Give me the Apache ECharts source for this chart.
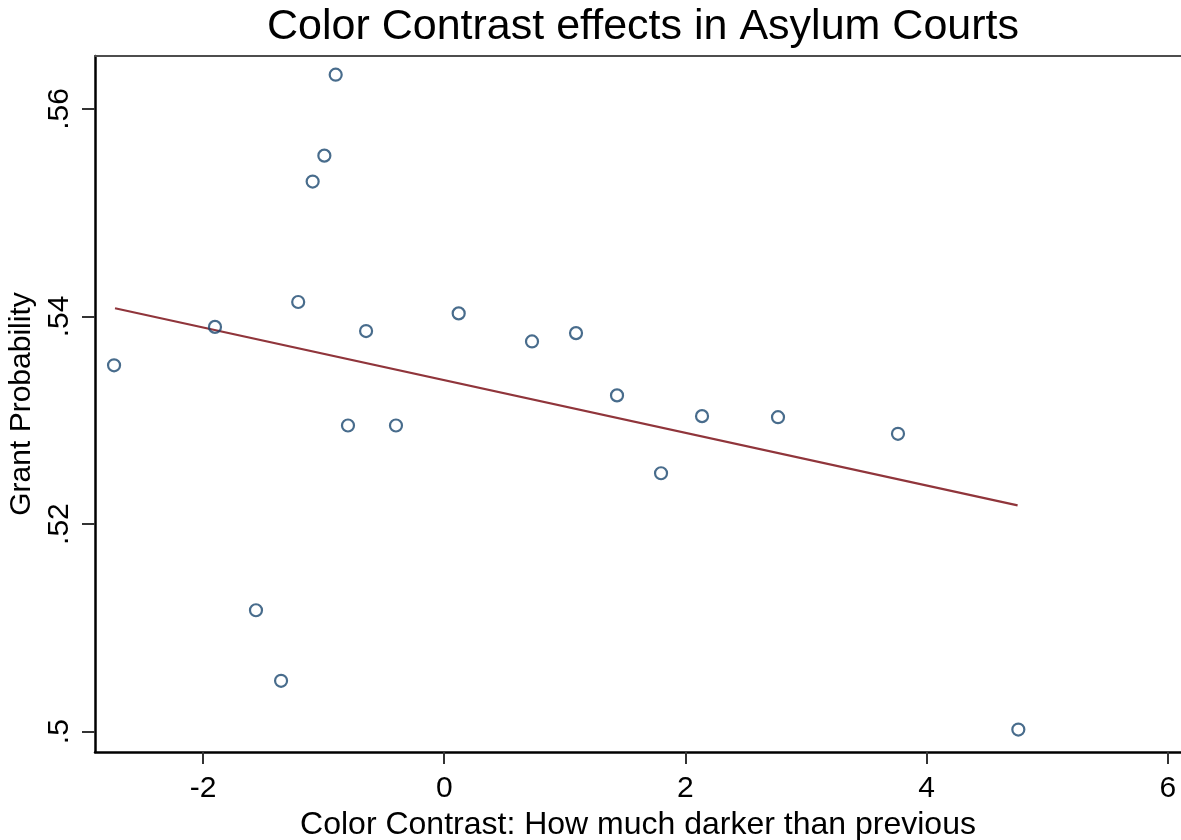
<!DOCTYPE html>
<html>
<head>
<meta charset="utf-8">
<script src="https://cdn.jsdelivr.net/npm/echarts@6/dist/echarts.min.js"></script>
<style>
html,body{margin:0;padding:0;background:#fff;}
#chart{width:1181px;height:840px;}
</style>
</head>
<body>
<div id="chart"></div>
<script>
// Data
var contrast = [-2.738, -1.901, -1.561, -1.353, -1.211, -1.091, -0.994, -0.900, -0.798, -0.648, -0.400, 0.120, 0.728, 1.093, 1.433, 1.798, 2.138, 2.768, 3.763, 4.761];
var grantProb = [0.5353, 0.5390, 0.5117, 0.5049, 0.5414, 0.5530, 0.5555, 0.5633, 0.5295, 0.5386, 0.5295, 0.5403, 0.5376, 0.5384, 0.5324, 0.5249, 0.5304, 0.5303, 0.5287, 0.5002];
var fitX = [-2.730, 4.755];
var fitY = [0.5408, 0.5218];
var xTicks = [-2, 0, 2, 4, 6];
var yTicks = [0.50, 0.52, 0.54, 0.56];
var yTickLabels = ['.5', '.52', '.54', '.56'];

var FONT = '"Liberation Sans", Arial, sans-serif';
var xMin = -2.896, xMax = 6.11, yMin = 0.49804, yMax = 0.5651;

var scatterData = contrast.map(function (x, i) { return [x, grantProb[i]]; });
var fitData = fitX.map(function (x, i) { return [x, fitY[i]]; });

var chart = echarts.init(document.getElementById('chart'), null, {renderer: 'canvas'});
chart.setOption({
  backgroundColor: '#ffffff',
  animation: false,
  title: {
    text: 'Color Contrast effects in Asylum Courts',
    left: 262,
    top: 1,
    textStyle: {fontFamily: FONT, fontSize: 43, fontWeight: 'normal', color: '#000'}
  },
  grid: {left: 95, right: 0, top: 56, bottom: 88, containLabel: false, outerBoundsMode: 'none'},
  xAxis: [{
    type: 'value', min: xMin, max: xMax, position: 'bottom',
    name: 'Color Contrast: How much darker than previous',
    nameLocation: 'middle', nameGap: 46,
    nameTextStyle: {fontFamily: FONT, fontSize: 32, color: '#000'},
    axisLine: {show: true, onZero: false, lineStyle: {color: '#000', width: 2.5}},
    axisTick: {show: true, length: 12, lineStyle: {color: '#333', width: 2}, customValues: xTicks},
    axisLabel: {show: true, fontFamily: FONT, fontSize: 30, color: '#000', margin: 22, customValues: xTicks,
      formatter: function (v) { return String(v); }},
    splitLine: {show: false}
  }, {
    type: 'value', min: xMin, max: xMax, position: 'top',
    axisLine: {show: true, onZero: false, lineStyle: {color: '#4d4d4d', width: 2}},
    axisTick: {show: false}, axisLabel: {show: false}, splitLine: {show: false}
  }],
  yAxis: {
    type: 'value', min: yMin, max: yMax,
    name: 'Grant Probability',
    nameLocation: 'middle', nameGap: 52, nameRotate: 90,
    nameTextStyle: {fontFamily: FONT, fontSize: 30, color: '#000'},
    axisLine: {show: true, onZero: false, lineStyle: {color: '#000', width: 2.5}},
    axisTick: {show: true, length: 13, lineStyle: {color: '#333', width: 2}, customValues: yTicks},
    axisLabel: {show: true, rotate: 90, fontFamily: FONT, fontSize: 30, color: '#000', margin: 20,
      customValues: yTicks,
      formatter: function (v) {
        for (var i = 0; i < yTicks.length; i++) { if (Math.abs(v - yTicks[i]) < 1e-9) return yTickLabels[i]; }
        return '';
      }},
    splitLine: {show: false}
  },
  series: [{
    type: 'scatter',
    data: scatterData,
    symbol: 'circle',
    symbolSize: 12,
    itemStyle: {color: 'rgba(255,255,255,0)', borderColor: '#1a476f', borderWidth: 2.2},
    z: 3
  }, {
    type: 'line',
    data: fitData,
    symbol: 'none',
    lineStyle: {color: '#90353b', width: 2.2},
    z: 2
  }]
});
</script>
</body>
</html>
